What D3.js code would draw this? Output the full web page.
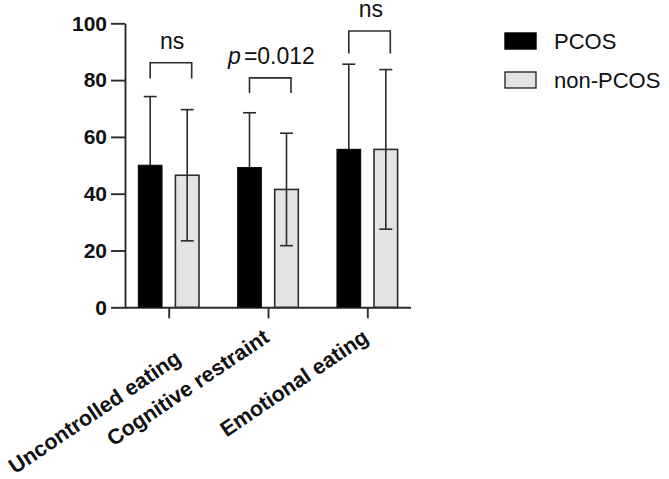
<!DOCTYPE html>
<html><head><meta charset="utf-8">
<script src="https://cdn.jsdelivr.net/npm/d3@7"></script>
<style>body{margin:0;background:#fff}svg{display:block;font-family:"Liberation Sans",Arial,sans-serif}</style>
</head><body><svg id="c" width="669" height="479"></svg>
<script>
const categories = ["Uncontrolled eating", "Cognitive restraint", "Emotional eating"];
const seriesNames = ["PCOS", "non-PCOS"];
const pcosMean = [50.0, 49.2, 55.6];
const pcosSD = [24.2, 19.3, 30.0];
const nonMean = [46.5, 41.5, 55.6];
const nonSD = [23.1, 19.8, 28.1];
const yTicks = [0, 20, 40, 60, 80, 100];
const sigLabels = ["ns", "p=0.012", "ns"];
const bracketTop = [86.1, 80.8, 97.3];
const bracketLeg = [80.6, 75.5, 89.4];

const svg = d3.select("#c");
const x0 = 125, x1 = 411;
const x = d3.scalePoint().domain(categories).range([x0, x1]).padding(0.44);
const y = d3.scaleLinear().domain([0, 100]).range([307.3, 23.3]);
const barW = 23.6, off = 18.5;
const dark = "#2b2b2b";
const FF = "Liberation Sans, Arial, sans-serif";

// y axis
const ya = svg.append("g").attr("transform", `translate(${x0},0)`)
  .call(d3.axisLeft(y).tickValues(yTicks).tickSize(14).tickPadding(4).tickSizeOuter(0));
ya.select(".domain").attr("stroke", dark).attr("stroke-width", 1.9);
ya.selectAll(".tick line").attr("stroke", dark).attr("stroke-width", 1.9);
ya.selectAll("text").attr("font-size", 21).attr("font-weight", "bold").attr("fill", "#111")
  .attr("font-family", FF);

// x axis
const xa = svg.append("g").attr("transform", "translate(0,307.3)")
  .call(d3.axisBottom(x).tickSize(11).tickSizeOuter(0));
xa.select(".domain").attr("stroke", dark).attr("stroke-width", 1.9)
  .attr("d", `M${x0},0.5H${x1}`);
xa.selectAll(".tick line").attr("stroke", dark).attr("stroke-width", 1.9);
xa.selectAll("text").attr("font-size", 21.5).attr("font-weight", "bold").attr("fill", "#111")
  .attr("font-family", FF)
  .attr("text-anchor", "end").attr("x", 0).attr("y", 0).attr("dy", "0.35em")
  .attr("transform", (d, i) => i === 0 ? "translate(9,48) rotate(-34)" : "translate(-2,27) rotate(-34)");

const data = categories.map((c, i) => ({c, i}));
const g = svg.append("g");
data.forEach(d => {
  const cx = x(d.c);
  const px = cx - off;
  const pTop = y(pcosMean[d.i] + pcosSD[d.i]);
  g.append("line").attr("x1", px).attr("x2", px).attr("y1", y(pcosMean[d.i])).attr("y2", pTop)
    .attr("stroke", dark).attr("stroke-width", 1.6);
  g.append("line").attr("x1", px - 6.5).attr("x2", px + 6.5).attr("y1", pTop).attr("y2", pTop)
    .attr("stroke", dark).attr("stroke-width", 1.6);
  g.append("rect").attr("x", px - barW / 2).attr("width", barW)
    .attr("y", y(pcosMean[d.i])).attr("height", y(0) - y(pcosMean[d.i]))
    .attr("fill", "#000").attr("stroke", "#111").attr("stroke-width", 1.2);
  const nx = cx + off;
  g.append("rect").attr("x", nx - barW / 2).attr("width", barW)
    .attr("y", y(nonMean[d.i])).attr("height", y(0) - y(nonMean[d.i]))
    .attr("fill", "#e4e4e4").attr("stroke", dark).attr("stroke-width", 1.6);
  const hi = y(nonMean[d.i] + nonSD[d.i]), lo = y(nonMean[d.i] - nonSD[d.i]);
  g.append("line").attr("x1", nx).attr("x2", nx).attr("y1", lo).attr("y2", hi).attr("stroke", dark).attr("stroke-width", 1.6);
  [hi, lo].forEach(v => g.append("line").attr("x1", nx - 6.5).attr("x2", nx + 6.5).attr("y1", v).attr("y2", v)
    .attr("stroke", dark).attr("stroke-width", 1.6));
  // bracket
  const bl = cx - 18.5, br = cx + 23;
  g.append("path").attr("d", `M${bl},${y(bracketLeg[d.i])}V${y(bracketTop[d.i])}H${br}V${y(bracketLeg[d.i])}`)
    .attr("fill", "none").attr("stroke", dark).attr("stroke-width", 1.6);
  const t = g.append("text").attr("x", cx + 3.5).attr("y", y(bracketTop[d.i]) - 14)
    .attr("text-anchor", "middle").attr("font-size", 23).attr("fill", "#111");
  const lab = sigLabels[d.i];
  if (lab.startsWith("p=")) {
    t.append("tspan").attr("font-style", "italic").text("p");
    t.append("tspan").attr("dx", 3).text(lab.slice(1));
  } else t.text(lab);
});

// legend
const fills = ["#000", "#e4e4e4"];
seriesNames.forEach((s, i) => {
  const ly = 33 + i * 39;
  svg.append("rect").attr("x", 505).attr("y", ly).attr("width", 31).attr("height", 16)
    .attr("fill", fills[i]).attr("stroke", i ? dark : "#000").attr("stroke-width", 1.4);
  svg.append("text").attr("x", 554).attr("y", ly + 16).attr("font-size", 22).attr("fill", "#111").text(s);
});
</script></body></html>
